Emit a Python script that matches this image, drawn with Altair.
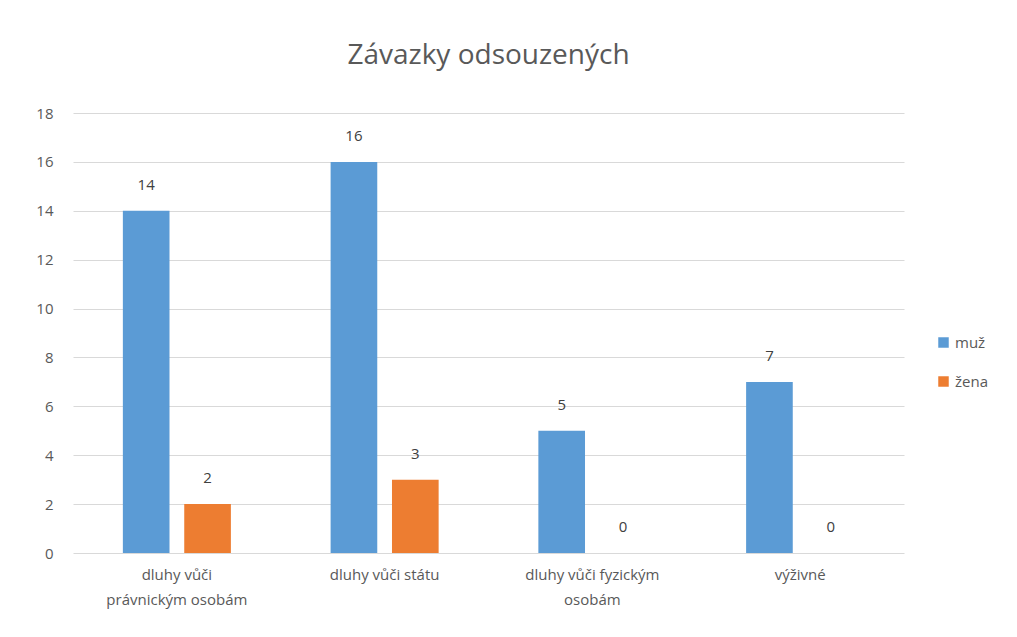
import altair as alt
import pandas as pd

categories = ["dluhy vůči právnickým osobám", "dluhy vůči státu", "dluhy vůči fyzickým osobám", "výživné"]
label_lines = [["dluhy vůči", "právnickým osobám"], ["dluhy vůči státu"], ["dluhy vůči fyzickým", "osobám"], ["výživné"]]
series = ["muž", "žena"]
muz = [14, 16, 5, 7]
zena = [2, 3, 0, 0]
colors = ["#5B9BD5", "#ED7D31"]

rows = []
for i, c in enumerate(categories):
    rows.append({"kat": c, "pohlavi": series[0], "pocet": muz[i]})
    rows.append({"kat": c, "pohlavi": series[1], "pocet": zena[i]})
df = pd.DataFrame(rows)

expr = " : ".join(
    f"datum.label == '{c}' ? {lines!r}" for c, lines in zip(categories, label_lines)
) + " : datum.label"
expr = expr.replace("'", '"')

FONT = "Open Sans"
GRAY = "#595959"

x = alt.X("kat:N", sort=categories, title=None,
          scale=alt.Scale(paddingInner=0.48, paddingOuter=0.24),
          axis=alt.Axis(labelAngle=0, labelExpr=expr, labelFontSize=15, labelColor=GRAY,
                        labelFont=FONT, ticks=False, domain=False, labelPadding=14,
                        labelLineHeight=25))
xo = alt.XOffset("pohlavi:N", sort=series, scale=alt.Scale(paddingInner=0.24))

base = alt.Chart(df).encode(x=x, xOffset=xo)

bars = base.mark_bar().encode(
    y=alt.Y("pocet:Q", title=None, scale=alt.Scale(domain=[0, 18]),
            axis=alt.Axis(values=list(range(0, 19, 2)), labelFontSize=15, labelColor=GRAY,
                          labelFont=FONT, ticks=False, domain=False, gridColor="#D9D9D9",
                          labelPadding=20)),
    color=alt.Color("pohlavi:N", sort=series, scale=alt.Scale(domain=series, range=colors),
                    legend=alt.Legend(title=None, orient="none", legendX=863, legendY=222,
                                      symbolType="square", symbolSize=110, labelFontSize=15,
                                      labelColor=GRAY, labelFont=FONT, rowPadding=23,
                                      symbolStrokeWidth=0)),
)

text = base.mark_text(dy=-18, fontSize=15, color="#404040", font=FONT, baseline="bottom").encode(
    y=alt.Y("pocet:Q"),
    text=alt.Text("pocet:Q"),
)

chart = (bars + text).properties(
    width=831, height=440,
    padding={"left": 27, "top": 34, "right": 5, "bottom": 5},
    background="white",
    title=alt.TitleParams("Závazky odsouzených", fontSize=28, font=FONT, color=GRAY,
                          fontWeight="normal", offset=36, anchor="middle"),
).configure_view(stroke=None)

chart.save("out.html", embed_options={"renderer": "svg", "actions": False})
